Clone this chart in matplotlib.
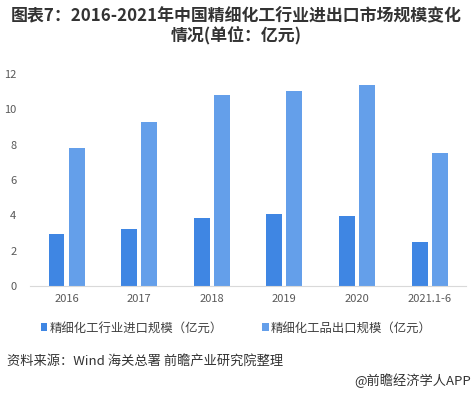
import numpy as np
import matplotlib
matplotlib.use("Agg")
from matplotlib import pyplot as plt

plt.rcParams['font.family'] = ['Noto Sans CJK SC', 'DejaVu Sans']

categories = ['2016', '2017', '2018', '2019', '2020', '2021.1-6']
import_vals = [2.94, 3.23, 3.85, 4.07, 3.96, 2.49]
export_vals = [7.81, 9.28, 10.81, 11.04, 11.38, 7.53]
import_label = '精细化工行业进口规模（亿元）'
export_label = '精细化工品出口规模（亿元）'

c_import = '#3F86E3'
c_export = '#649FEA'

fig = plt.figure(figsize=(4.72, 3.94), dpi=100)
ax = fig.add_axes([0.064, 0.274, 0.923, 0.538])

x = np.arange(len(categories))
w = 0.22
ax.bar(x - 0.138, import_vals, width=w, color=c_import, label=import_label)
ax.bar(x + 0.138, export_vals, width=w, color=c_export, label=export_label)

ax.set_xlim(-0.5, len(categories) - 0.5)
ax.set_ylim(0, 12)
ax.set_yticks(range(0, 13, 2))
ax.set_xticks(x)
ax.set_xticklabels(categories)
for s in ['top', 'right', 'left']:
    ax.spines[s].set_visible(False)
ax.spines['bottom'].set_color('#D9D9D9')
ax.tick_params(axis='both', length=0, labelsize=8, colors='#595959')
ax.tick_params(axis='x', pad=6)
ax.tick_params(axis='y', pad=10)

fig.text(0.5, 0.958, '图表7：2016-2021年中国精细化工行业进出口市场规模变化',
         ha='center', va='center', fontsize=12.2, fontweight='bold', color='#333333')
fig.text(0.5, 0.91, '情况(单位：亿元)',
         ha='center', va='center', fontsize=12.2, fontweight='bold', color='#333333')

leg = fig.legend(loc='center', bbox_to_anchor=(0.5, 0.168), ncol=2, frameon=False,
                 fontsize=8.9, handlelength=0.55, handleheight=0.55, handletextpad=0.15,
                 columnspacing=3.2)
for t in leg.get_texts():
    t.set_color('#404040')

fig.text(0.015, 0.083, '资料来源：Wind 海关总署 前瞻产业研究院整理',
         ha='left', va='center', fontsize=9.5, color='#333333')
fig.text(0.998, 0.035, '@前瞻经济学人APP',
         ha='right', va='center', fontsize=9.5, color='#333333')

fig.savefig('out.png', dpi=100)
